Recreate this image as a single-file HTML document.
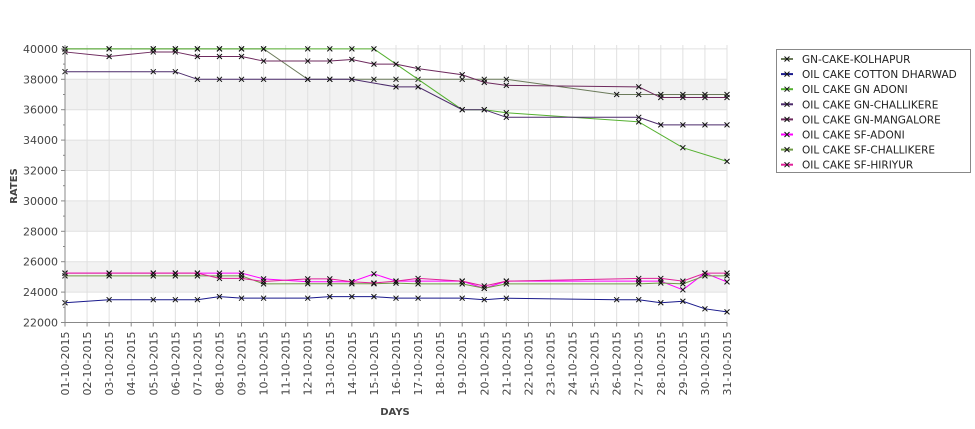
<!DOCTYPE html>
<html><head><meta charset="utf-8"><style>
html,body{margin:0;padding:0;background:#fff;}
svg{display:block;font-family:"DejaVu Sans","Liberation Sans",sans-serif;}
</style></head><body>
<svg id="chart" width="975" height="429" viewBox="0 0 975 429" xmlns="http://www.w3.org/2000/svg">
<g id="bands"></g>
<g id="grid"></g>
<g id="series"></g>
<g id="axes"></g>
<text x="17" y="186" transform="rotate(-90 17 186)" text-anchor="middle" font-size="10" font-weight="bold" fill="#444">RATES</text>
<text x="395" y="415" text-anchor="middle" font-size="10" font-weight="bold" fill="#444">DAYS</text>
<g id="legend"></g>
</svg>
<script>
const days = [1,3,5,6,7,8,9,10,12,13,14,15,16,17,19,20,21,26,27,28,29,30,31];
const seriesNames = ["GN-CAKE-KOLHAPUR","OIL CAKE COTTON DHARWAD","OIL CAKE GN ADONI","OIL CAKE GN-CHALLIKERE","OIL CAKE GN-MANGALORE","OIL CAKE SF-ADONI","OIL CAKE SF-CHALLIKERE","OIL CAKE SF-HIRIYUR"];
const seriesColors = ["#6b7a5a","#1a1a8c","#55b030","#4b2a6a","#6e2a5e","#ff00ff","#6f9a45","#e0209a"];
const kolhapur   = [40000,40000,40000,40000,40000,40000,40000,40000,38000,38000,38000,38000,38000,38000,38000,38000,38000,37000,37000,37000,37000,37000,37000];
const cotton     = [23300,23500,23500,23500,23500,23700,23600,23600,23600,23700,23700,23700,23600,23600,23600,23500,23600,23500,23500,23300,23400,22900,22700];
const gnAdoni    = [40000,40000,40000,40000,40000,40000,40000,40000,40000,40000,40000,40000,null,null,36000,36000,35800,null,35200,null,33500,null,32600];
const gnChallik  = [38500,null,38500,38500,38000,38000,38000,38000,38000,38000,38000,null,37500,37500,36000,36000,35500,null,35500,35000,35000,35000,35000];
const mangalore  = [39800,39500,39800,39800,39500,39500,39500,39200,39200,39200,39300,39000,39000,38700,38300,37800,37600,null,37500,36800,36800,36800,36800];
const sfAdoni    = [25250,25250,25250,25250,25250,25250,25250,24870,24680,24680,24680,25200,24720,24720,24720,24250,24720,null,24720,24720,24150,25250,24670];
const sfChallik  = [25070,25070,25070,25070,25070,25070,25070,24540,24550,24550,24550,24550,24590,24540,24540,24250,24540,null,24540,24600,24540,25070,25070];
const sfHiriyur  = [25250,25250,25250,25250,25250,24900,24900,24700,24870,24870,24680,24600,24720,24900,24720,24400,24720,null,24900,24900,24720,25250,25250];
const allSeries = [kolhapur,cotton,gnAdoni,gnChallik,mangalore,sfAdoni,sfChallik,sfHiriyur];
const yTicks = [22000,24000,26000,28000,30000,32000,34000,36000,38000,40000];
const xDays = Array.from({length:31},(_,i)=>i+1);

const NS="http://www.w3.org/2000/svg";
const X0=65,X1=727,Y0=322.5,Ymin=22000,Ymax=40000,YTOP=45;
const xS=d=>X0+(d-1)*(X1-X0)/30;
const yS=v=>Y0-(v-Ymin)*0.0152;
function mk(tag,attrs,parent){const e=document.createElementNS(NS,tag);for(const k in attrs)e.setAttribute(k,attrs[k]);parent.appendChild(e);return e;}
const bands=document.getElementById('bands'),grid=document.getElementById('grid'),axes=document.getElementById('axes'),ser=document.getElementById('series'),leg=document.getElementById('legend');
mk('rect',{x:X0,y:YTOP,width:X1-X0,height:Y0-YTOP,fill:'#fff'},bands);
for(let i=0;i<yTicks.length-1;i++){
  if(i%2===1){const b=mk('rect',{x:X0,y:yS(yTicks[i+1]),width:X1-X0,height:yS(yTicks[i])-yS(yTicks[i+1]),fill:'#f2f2f2'},bands);
  
  }
}
xDays.forEach(d=>{
  const l=mk('line',{x1:xS(d),x2:xS(d),y1:YTOP,y2:Y0,stroke:'#e0e0e0','stroke-width':1},grid);
  
  
});
yTicks.forEach(v=>{
  const l=mk('line',{x1:X0,x2:X1,y1:yS(v),y2:yS(v),stroke:'#e0e0e0','stroke-width':1},grid);
  
  
});
mk('line',{x1:X0,x2:X0,y1:YTOP,y2:Y0,stroke:'#888'},axes);
mk('line',{x1:X0,x2:X1,y1:Y0,y2:Y0,stroke:'#888'},axes);
yTicks.forEach(v=>{
  mk('line',{x1:X0-4,x2:X0,y1:yS(v),y2:yS(v),stroke:'#888'},axes);
  if(v<Ymax) mk('line',{x1:X0-2,x2:X0,y1:yS(v+1000),y2:yS(v+1000),stroke:'#888'},axes);
  const t=mk('text',{x:X0-7,y:yS(v)+4,'text-anchor':'end','font-size':11,fill:'#444'},axes);
  
  
  t.textContent=v;
});
xDays.forEach(d=>{
  const x=xS(d);
  mk('line',{x1:x,x2:x,y1:Y0,y2:Y0+4,stroke:'#888'},axes);
  const t=mk('text',{x:0,y:0,'text-anchor':'end','font-size':11,fill:'#444',transform:`translate(${x+4},${Y0+9}) rotate(-90)`},axes);
  
  
  t.textContent=String(d).padStart(2,'0')+'-10-2015';
});
allSeries.forEach((vals,si)=>{
  const g=mk('g',{},ser);
  
  
  const pts=[];
  vals.forEach((v,i)=>{if(v!==null)pts.push([xS(days[i]),yS(v)]);});
  const p=mk('polyline',{points:pts.map(p=>p.join(',')).join(' '),fill:'none',stroke:seriesColors[si],'stroke-width':1},g);
  
  
  pts.forEach(([x,y])=>{
    const m=mk('path',{d:`M${x-2.5},${y-2.5}L${x+2.5},${y+2.5}M${x-2.5},${y+2.5}L${x+2.5},${y-2.5}`,stroke:'#111','stroke-width':1},g);
    
    
  });
});
mk('rect',{x:776.5,y:49.5,width:194,height:123,fill:'#fff',stroke:'#888'},leg);
seriesNames.forEach((n,i)=>{
  const y=59+i*15.1;
  const g=mk('g',{},leg);
  
  
  mk('line',{x1:781,x2:793,y1:y,y2:y,stroke:seriesColors[i],'stroke-width':2},g);
  mk('path',{d:`M784.5,${y-2.5}L789.5,${y+2.5}M784.5,${y+2.5}L789.5,${y-2.5}`,stroke:'#111'},g);
  const t=mk('text',{x:802,y:y+4,'font-size':10.5,fill:'#222'},g);
  t.textContent=n;
});
</script>
</body></html>
